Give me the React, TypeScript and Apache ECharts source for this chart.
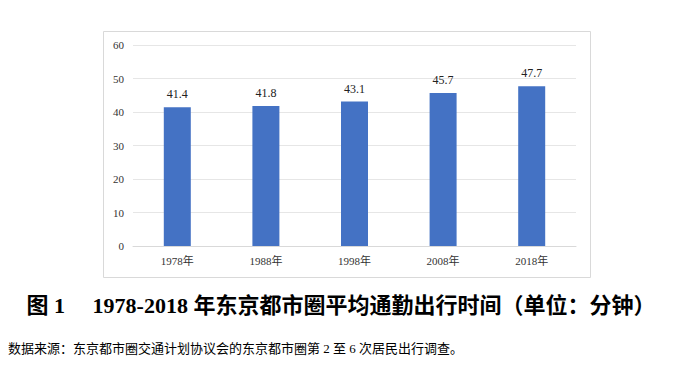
import React, { useEffect, useRef } from "react";
import * as echarts from "echarts";

const categories = ["1978年", "1988年", "1998年", "2008年", "2018年"];
const values = [41.4, 41.8, 43.1, 45.7, 47.7];
const titleText = "图 1　 1978-2018 年东京都市圈平均通勤出行时间（单位：分钟）";
const sourceText = "数据来源：东京都市圈交通计划协议会的东京都市圈第 2 至 6 次居民出行调查。";

export default function App() {
  const ref = useRef<HTMLDivElement>(null);
  useEffect(() => {
    const chart = echarts.init(ref.current!, null, { renderer: "svg" });
    const serif = "'Liberation Serif', 'Times New Roman', 'Noto Sans CJK SC', serif";
    chart.setOption({
      animation: false,
      backgroundColor: "#ffffff",
      grid: { left: 133, right: 105, top: 45, bottom: 131 },
      xAxis: {
        type: "category",
        data: categories,
        axisLine: { show: true, lineStyle: { color: "#d9d9d9" } },
        axisTick: { show: false },
        axisLabel: { color: "#333", fontFamily: serif, fontSize: 11, margin: 9 },
      },
      yAxis: {
        type: "value",
        min: 0,
        max: 60,
        interval: 10,
        axisLine: { show: false },
        axisTick: { show: false },
        splitLine: { lineStyle: { color: "#e6e6e6" } },
        axisLabel: { color: "#333", fontFamily: serif, fontSize: 11, margin: 9 },
      },
      series: [
        {
          type: "bar",
          data: values,
          barWidth: 27,
          itemStyle: { color: "#4472C4" },
          label: {
            show: true,
            position: "top",
            distance: 7,
            color: "#222",
            fontFamily: serif,
            fontSize: 12,
          },
        },
      ],
      graphic: [
        {
          type: "rect",
          shape: { x: 103.5, y: 31.5, width: 487, height: 246 },
          style: { fill: "none", stroke: "#d9d9d9", lineWidth: 1 },
          silent: true,
        },
        {
          type: "text",
          x: 341,
          y: 305,
          style: {
            text: titleText,
            align: "center",
            verticalAlign: "middle",
            fontFamily: serif,
            fontWeight: "bold",
            fontSize: 22,
            fill: "#000",
          },
        },
        {
          type: "text",
          x: 8,
          y: 348,
          style: {
            text: sourceText,
            align: "left",
            verticalAlign: "middle",
            fontFamily: serif,
            fontSize: 13,
            fill: "#000",
          },
        },
      ],
    });
    return () => chart.dispose();
  }, []);
  return (
    <div
      ref={ref}
      style={{ position: "fixed", left: 0, top: 0, width: 681, height: 377 }}
    />
  );
}
